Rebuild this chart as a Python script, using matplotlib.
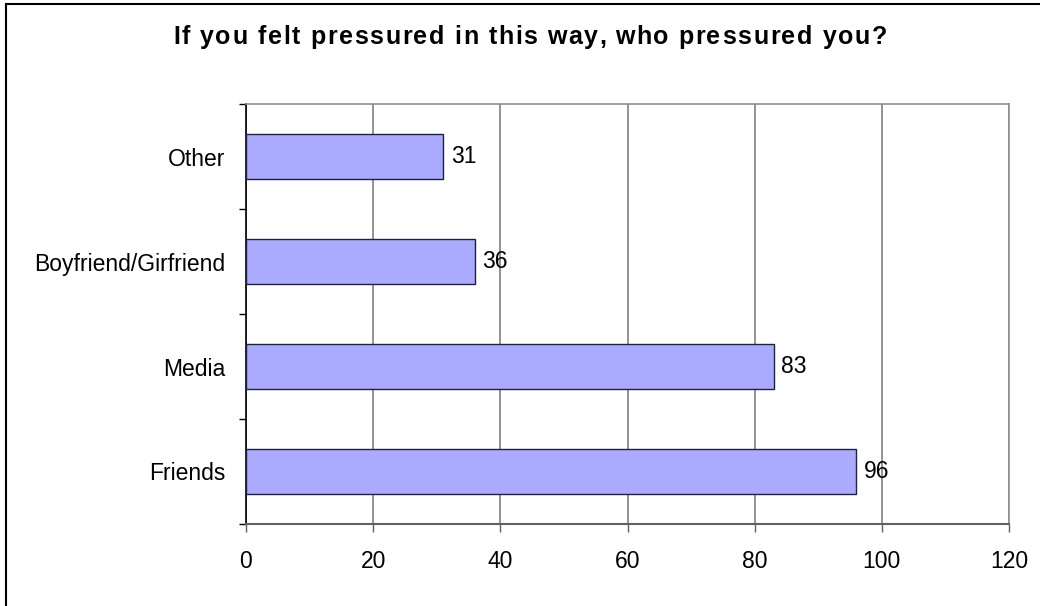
import matplotlib
matplotlib.use("Agg")
import matplotlib.pyplot as plt
from matplotlib.lines import Line2D
from matplotlib.font_manager import FontProperties

# data
categories = ["Friends", "Media", "Boyfriend/Girfriend", "Other"]
counts = [96, 83, 36, 31]
xticks = [0, 20, 40, 60, 80, 100, 120]
title = "If you felt pressured in this way, who pressured you?"

plt.rcParams['font.family'] = ['Liberation Sans', 'DejaVu Sans']

fig = plt.figure(figsize=(10.4, 6.06), dpi=100)
ax = fig.add_axes([246/1040, 82/606, 763/1040, 420/606])

ypos = list(range(len(categories)))
ax.barh(ypos, counts, height=0.43, color="#aaaaff", edgecolor="#202040",
        linewidth=1.0, zorder=3)
for y, v in zip(ypos, counts):
    ax.text(v + 1.2, y, str(v), va="center", ha="left", fontsize=16.5, zorder=4)

ax.set_xlim(0, 120)
ax.set_ylim(-0.5, len(categories) - 0.5)
ax.set_xticks(xticks)
ax.set_xticklabels([str(t) for t in xticks], fontsize=16.5)
ax.set_yticks(ypos)
ax.set_yticklabels(categories, fontsize=16.5)
ax.set_yticks([i - 0.5 for i in range(len(categories) + 1)], minor=True)
ax.tick_params(axis="y", which="major", length=0, pad=15)
ax.tick_params(axis="y", which="minor", length=5, width=1, color="black", direction="out")
ax.tick_params(axis="x", length=6, width=1, color="#606060", pad=13)

ax.xaxis.grid(True, color="#808080", linewidth=1.2, zorder=0)
ax.set_axisbelow(True)
for side in ["top", "right"]:
    ax.spines[side].set_color("#909090")
    ax.spines[side].set_linewidth(1.2)
ax.spines["left"].set_color("black")
ax.spines["left"].set_linewidth(1.2)
ax.spines["bottom"].set_color("#606060")
ax.spines["bottom"].set_linewidth(1.5)

# title drawn with a little extra letter spacing, like the old spreadsheet rendering
prop = FontProperties(family="Liberation Sans", weight="bold", size=18)
renderer = fig.canvas.get_renderer()
def text_w(s):
    # measure with an end marker so trailing spaces count
    t = fig.text(0, 0, s + "|", fontproperties=prop)
    w = t.get_window_extent(renderer).width
    t.remove()
    t = fig.text(0, 0, "|", fontproperties=prop)
    w -= t.get_window_extent(renderer).width
    t.remove()
    return w
x_left, x_right = 173, 887
natural = text_w(title)
gap = max(0.0, (x_right - x_left - natural) / (len(title) - 1))
for i, ch in enumerate(title):
    if ch == " ":
        continue
    px = x_left + text_w(title[:i]) + i * gap
    fig.text(px / 1040, 1 - 44 / 606, ch, ha="left", va="baseline",
             fontproperties=prop)

# outer chart border (only top and left edges are visible in the reference)
fig.add_artist(Line2D([6/1040, 6/1040], [0, 1 - 4/606], transform=fig.transFigure,
                      color="black", linewidth=1.5))
fig.add_artist(Line2D([6/1040, 1], [1 - 4/606, 1 - 4/606], transform=fig.transFigure,
                      color="black", linewidth=1.5))

fig.savefig("out.png", dpi=100)
